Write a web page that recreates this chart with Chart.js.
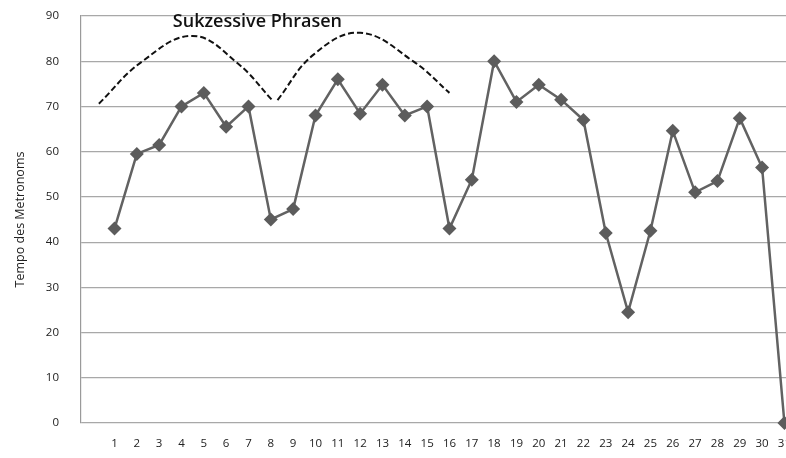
<!DOCTYPE html>
<html>
<head>
<meta charset="utf-8">
<script src="https://cdn.jsdelivr.net/npm/chart.js@4"></script>
<style>
  html, body { margin: 0; padding: 0; background: #fff; overflow: hidden; }
  #wrap { width: 797px; height: 458px; }
</style>
</head>
<body>
<div id="wrap"><canvas id="chart" width="797" height="458"></canvas></div>
<script>
const categories = [1, 2, 3, 4, 5, 6, 7, 8, 9, 10, 11, 12, 13, 14, 15, 16, 17, 18, 19, 20, 21, 22, 23, 24, 25, 26, 27, 28, 29, 30, 31];
const tempo = [43, 59.5, 61.5, 70, 73, 65.5, 70, 45, 47.3, 68, 76, 68.4, 74.8, 68, 70, 43, 53.8, 80, 71, 74.8, 71.5, 67, 42, 24.5, 42.5, 64.6, 51, 53.5, 67.4, 56.5, 0];
const yTicks = [0, 10, 20, 30, 40, 50, 60, 70, 80, 90];

// dashed arcs "Sukzessive Phrasen"
const phrase1X = [0.3, 2.2, 4.5, 6.5, 8.1];
const phrase1Y = [70.6, 79.8, 85.6, 79.6, 71.2];
const phrase2X = [8.3, 9.9, 12.0, 14.4, 16.0];
const phrase2Y = [71.4, 81.4, 86.3, 79.9, 73.0];

const phraseLabel = 'Sukzessive Phrasen';
const yTitle = 'Tempo des Metronoms';

const toPoints = (xs, ys) => xs.map((x, i) => ({ x: x, y: ys[i] }));

const labelPlugin = {
    id: 'phraseLabel',
    afterDatasetsDraw(chart) {
        const ctx = chart.ctx;
        const x = chart.scales.x.getPixelForValue(7.4);
        const y = chart.scales.y.getPixelForValue(88.6);
        ctx.save();
        ctx.font = '600 18px "Open Sans"';
        ctx.fillStyle = '#111';
        ctx.textAlign = 'center';
        ctx.textBaseline = 'middle';
        ctx.fillText(phraseLabel, x, y);
        ctx.restore();
    }
};

new Chart(document.getElementById('chart'), {
    type: 'line',
    data: {
        datasets: [
            {
                data: toPoints(categories, tempo),
                borderColor: '#626262',
                backgroundColor: '#5c5c5c',
                borderWidth: 2.5,
                pointStyle: 'rectRot',
                pointRadius: 7,
                pointBorderWidth: 0,
                tension: 0,
                clip: false
            },
            {
                data: toPoints(phrase1X, phrase1Y),
                borderColor: '#111',
                borderWidth: 2,
                borderDash: [6, 3],
                pointRadius: 0,
                tension: 0.4
            },
            {
                data: toPoints(phrase2X, phrase2Y),
                borderColor: '#111',
                borderWidth: 2,
                borderDash: [6, 3],
                pointRadius: 0,
                tension: 0.4
            }
        ]
    },
    options: {
        responsive: false,
        animation: false,
        layout: { autoPadding: false, padding: { top: 16, left: 0, right: 0, bottom: 0 } },
        plugins: { legend: { display: false }, tooltip: { enabled: false } },
        scales: {
            x: {
                type: 'linear',
                min: -0.5,
                max: 31.5,
                afterBuildTicks: s => { s.ticks = categories.map(v => ({ value: v })); },
                afterFit: s => { s.height = 35; s.paddingTop = 0; s.paddingBottom = 0; },
                grid: { display: false },
                border: { display: false },
                ticks: {
                    color: '#222',
                    font: { family: '"Open Sans"', size: 11.5 },
                    maxRotation: 0,
                    autoSkip: false,
                    padding: 6
                }
            },
            y: {
                min: 0,
                max: 90,
                afterBuildTicks: s => { s.ticks = yTicks.map(v => ({ value: v })); },
                afterFit: s => { s.width = 81; s.paddingTop = 0; s.paddingBottom = 0; },
                grid: { color: '#a8a8a8', lineWidth: 1.2, drawTicks: false },
                border: { display: true, color: '#9a9a9a', width: 1.2 },
                ticks: {
                    color: '#222',
                    font: { family: '"Open Sans"', size: 11.5 },
                    padding: 22
                },
                title: {
                    display: true,
                    text: yTitle,
                    color: '#222',
                    font: { family: '"Open Sans"', size: 12.5 },
                    padding: { top: 13, bottom: 0 }
                }
            }
        }
    },
    plugins: [labelPlugin]
});
</script>
</body>
</html>
